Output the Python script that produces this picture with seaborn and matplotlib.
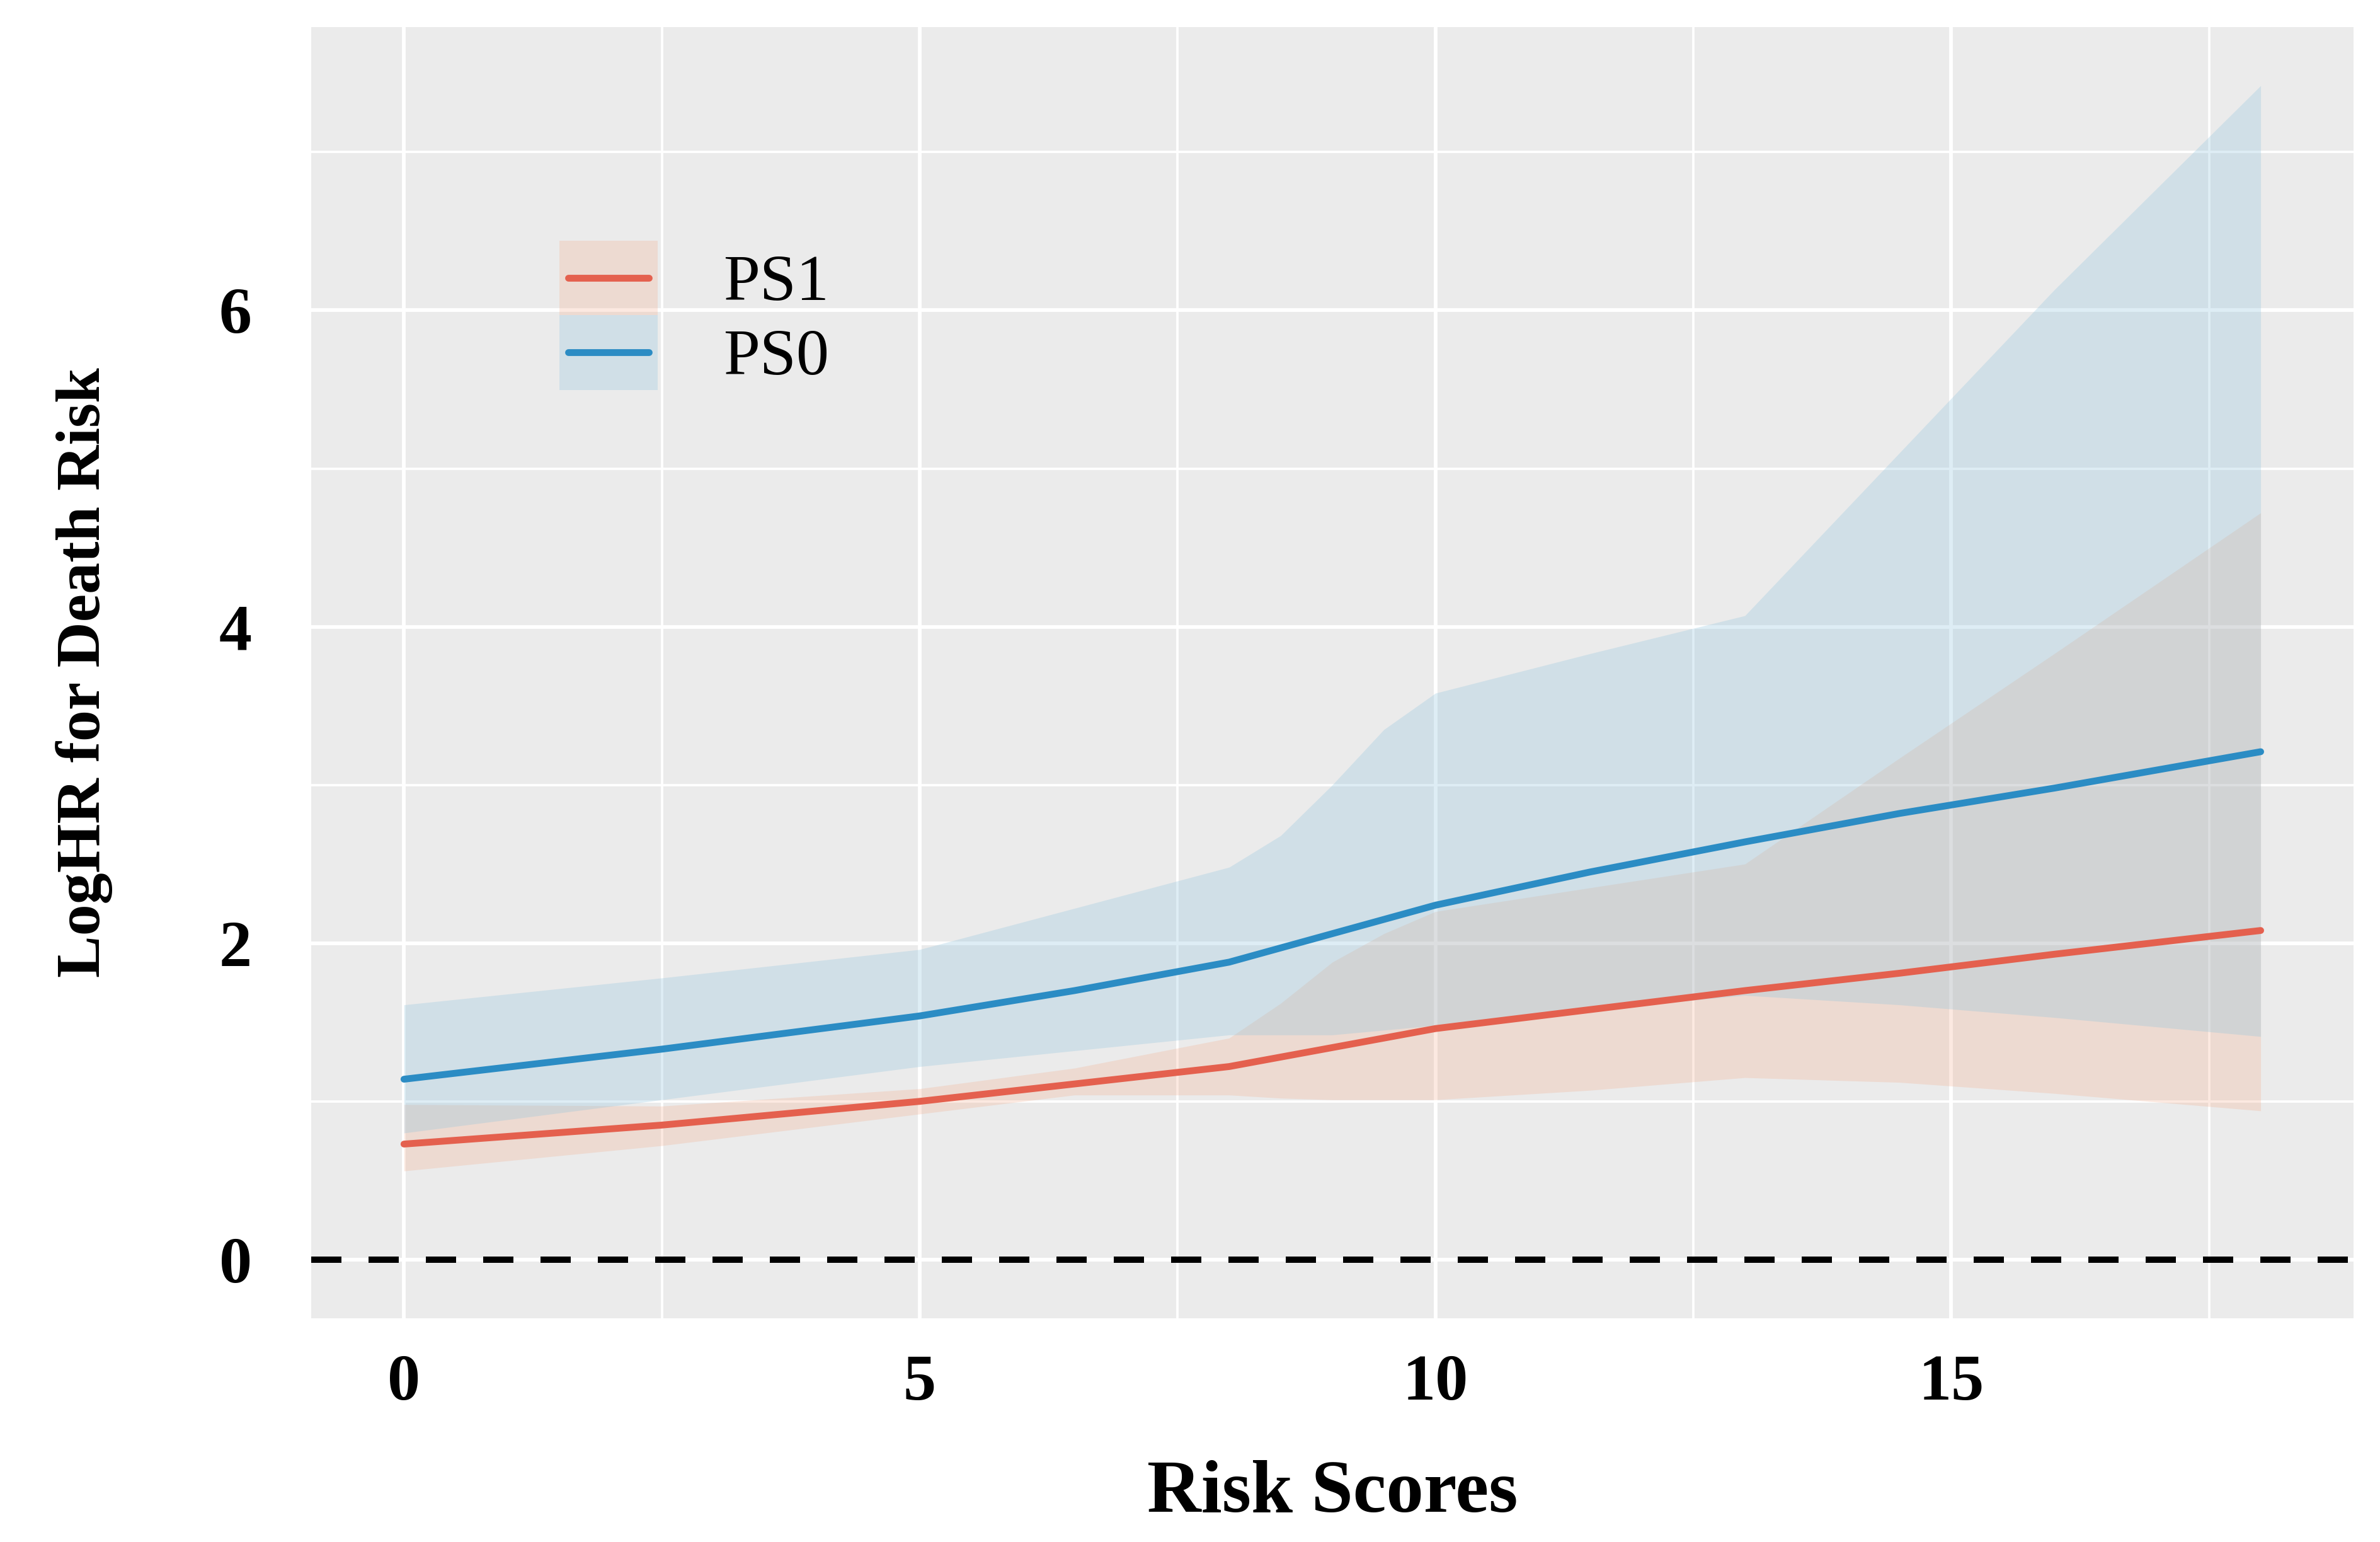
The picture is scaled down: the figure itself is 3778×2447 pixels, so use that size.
import numpy as np
import pandas as pd
import matplotlib
matplotlib.use("Agg")
import matplotlib.pyplot as plt
import seaborn as sns
from matplotlib.patches import Rectangle
from matplotlib.lines import Line2D
from matplotlib.legend_handler import HandlerBase

# -------------------------------
# Values
# -------------------------------
score = [0, 2.5, 5, 6.5, 8, 8.5, 9, 9.5, 10, 11.5, 13, 14.5, 16, 18]

ps1_fit = [0.73, 0.85, 1.00, 1.11, 1.22, 1.28, 1.34, 1.40, 1.46, 1.58, 1.70, 1.81, 1.93, 2.08]
ps1_low = [0.56, 0.72, 0.92, 1.04, 1.04, 1.02, 1.01, 1.01, 1.01, 1.07, 1.15, 1.12, 1.05, 0.94]
ps1_high = [0.98, 0.97, 1.08, 1.21, 1.40, 1.62, 1.88, 2.06, 2.20, 2.35, 2.50, 3.17, 3.83, 4.72]

ps0_fit = [1.14, 1.33, 1.54, 1.70, 1.88, 1.97, 2.06, 2.15, 2.24, 2.45, 2.64, 2.82, 2.98, 3.21]
ps0_low = [0.80, 1.01, 1.22, 1.32, 1.42, 1.42, 1.42, 1.45, 1.48, 1.58, 1.67, 1.61, 1.53, 1.41]
ps0_high = [1.61, 1.78, 1.96, 2.22, 2.48, 2.68, 3.00, 3.35, 3.58, 3.83, 4.07, 5.10, 6.13, 7.42]

groups = ["PS1", "PS0"]
line_colors = {"PS1": "#E4604E", "PS0": "#2B8CC4"}
fill_colors = {"PS1": "#F4A582", "PS0": "#92C5DE"}
fill_alpha = {"PS1": 0.24, "PS0": 0.30}

df = pd.concat([
    pd.DataFrame({"score": score, "fit": ps1_fit, "low": ps1_low, "high": ps1_high, "group": "PS1"}),
    pd.DataFrame({"score": score, "fit": ps0_fit, "low": ps0_low, "high": ps0_high, "group": "PS0"}),
], ignore_index=True)


# legend key = ribbon square with a shorter line across it
class RibbonKey(HandlerBase):
    def create_artists(self, legend, orig_handle, xdescent, ydescent,
                       width, height, fontsize, trans):
        g = orig_handle
        rect = Rectangle((-xdescent, -ydescent), width, height, transform=trans,
                         facecolor=fill_colors[g], alpha=fill_alpha[g], edgecolor="none")
        y = -ydescent + height / 2
        line = Line2D([-xdescent + 0.09 * width, -xdescent + 0.91 * width], [y, y],
                      color=line_colors[g], lw=2.6, transform=trans)
        return [rect, line]


class KeyHandle(str):
    pass


# -------------------------------
# Style
# -------------------------------
sns.set_theme(style="darkgrid", rc={
    "axes.facecolor": "#EBEBEB",
    "grid.color": "white",
    "axes.edgecolor": "none",
})
plt.rcParams["font.family"] = ["Liberation Serif", "DejaVu Serif"]

fig = plt.figure(figsize=(3779 / 300, 2447 / 300), dpi=300)
ax = fig.add_axes([0.1307, 0.1451, 0.8579, 0.8373])

# confidence bands
for g in groups:
    sub = df[df["group"] == g]
    ax.fill_between(sub["score"], sub["low"], sub["high"],
                    color=fill_colors[g], alpha=fill_alpha[g], lw=0, zorder=2)

# fitted lines
sns.lineplot(data=df, x="score", y="fit", hue="group", hue_order=groups,
             palette=line_colors, lw=2.6, legend=False, ax=ax, zorder=4)

ax.axhline(0, color="black", lw=2.4, dashes=(4.8, 4.3), zorder=5)

# axes
ax.set_xlim(-0.9, 18.9)
ax.set_ylim(-0.371, 7.79)
ax.set_xticks([0, 5, 10, 15])
ax.set_yticks([0, 2, 4, 6])
ax.set_xticks([2.5, 7.5, 12.5, 17.5], minor=True)
ax.set_yticks([1, 3, 5, 7], minor=True)
ax.grid(which="major", color="white", lw=1.4)
ax.grid(which="minor", color="white", lw=0.9)
ax.set_axisbelow(True)

ax.tick_params(axis="both", which="major", length=4.6, width=1.2, color="#333333",
               labelsize=25, labelcolor="black")
ax.tick_params(axis="y", which="major", pad=18)
ax.tick_params(axis="x", which="major", pad=9)
ax.tick_params(which="minor", length=0)
for lab in ax.get_xticklabels() + ax.get_yticklabels():
    lab.set_fontweight("bold")

ax.set_xlabel("Risk Scores", fontsize=28.5, fontweight="bold", color="black")
ax.set_ylabel("LogHR for Death Risk", fontsize=24, fontweight="bold", color="black")
ax.xaxis.set_label_coords(0.5, -0.110)
ax.yaxis.set_label_coords(-0.097, 0.5)

keys = [KeyHandle(g) for g in groups]
leg = ax.legend(keys, groups, handler_map={KeyHandle: RibbonKey()},
                loc="upper left", bbox_to_anchor=(0.1215, 0.8346), frameon=False,
                borderpad=0, borderaxespad=0, labelspacing=0,
                handlelength=1.50, handleheight=1.37, handletextpad=1.0,
                prop={"family": ["Liberation Serif"], "size": 25})
for t in leg.get_texts():
    t.set_color("black")

fig.savefig("out.png", dpi=300, facecolor="white")
